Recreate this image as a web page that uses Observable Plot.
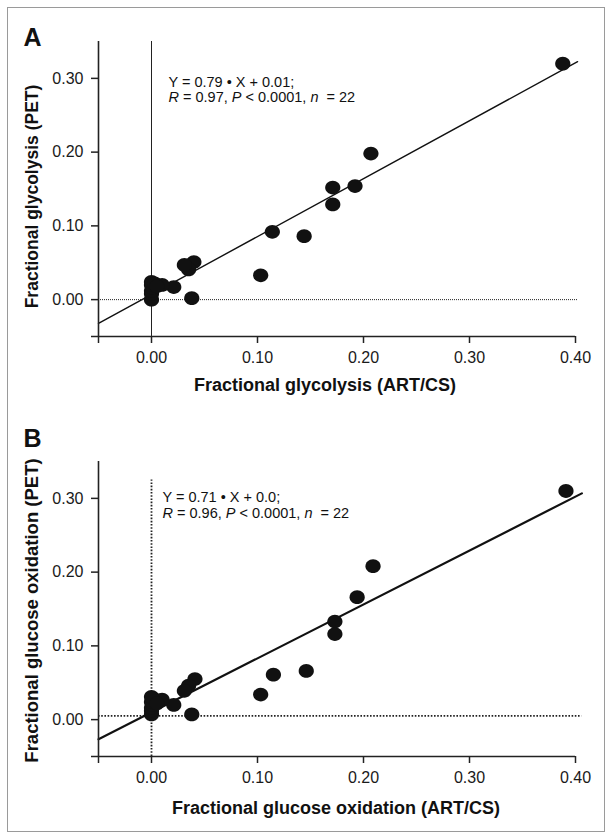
<!DOCTYPE html>
<html>
<head>
<meta charset="utf-8">
<script src="https://cdn.jsdelivr.net/npm/d3@7"></script>
<script src="https://cdn.jsdelivr.net/npm/@observablehq/plot@0.6"></script>
<style>
  html, body { margin: 0; padding: 0; background: #fff; }
  #fig { position: relative; width: 612px; height: 840px; overflow: hidden; }
  #frame { position: absolute; left: 7px; top: 7px; width: 598px; height: 825px; box-sizing: border-box; border: 1.5px solid #9a9a9a; pointer-events: none; }
  .panel { position: absolute; left: 0; width: 612px; height: 420px; }
  #pA { top: 0; }
  #pB { top: 420px; }
</style>
</head>
<body>
<div id="fig">
  <div id="pA" class="panel"></div>
  <div id="pB" class="panel"></div>
  <div id="frame"></div>
</div>
<script>
// ---------- data ----------
const xDomain = [-0.05, 0.40];
const yDomain = [-0.05, 0.35];
const xTicks = [-0.05, 0, 0.1, 0.2, 0.3, 0.4];
const yTicks = [-0.05, 0, 0.1, 0.2, 0.3];

// Panel A: fractional glycolysis
const xA = [0.388, 0.207, 0.192, 0.171, 0.171, 0.144, 0.114, 0.103, 0.038, 0.040, 0.035, 0.031, 0.021, 0.010, 0.000, 0.000, 0.000, 0.001, 0.000, 0.000, 0.003, 0.005];
const yA = [0.320, 0.198, 0.154, 0.152, 0.129, 0.086, 0.092, 0.033, 0.002, 0.051, 0.041, 0.047, 0.017, 0.020, 0.000, 0.008, 0.012, 0.016, 0.020, 0.024, 0.022, 0.018];
const fitA = [0.785, 0.007];          // slope, intercept of drawn line
const fitRangeA = [-0.05, 0.402];
const eqA = ["Y = 0.79 \u2022 X + 0.01;", "R = 0.97, P < 0.0001, n  = 22"];
const xLabelA = "Fractional glycolysis (ART/CS)";
const yLabelA = "Fractional glycolysis (PET)";

// Panel B: fractional glucose oxidation
const xB = [0.391, 0.209, 0.194, 0.173, 0.173, 0.146, 0.115, 0.103, 0.038, 0.041, 0.035, 0.031, 0.021, 0.010, 0.000, 0.000, 0.000, 0.001, 0.000, 0.002, 0.000, 0.005];
const yB = [0.310, 0.208, 0.166, 0.133, 0.116, 0.066, 0.061, 0.034, 0.007, 0.055, 0.046, 0.039, 0.020, 0.027, 0.007, 0.012, 0.016, 0.020, 0.024, 0.028, 0.031, 0.022];
const fitB = [0.731, 0.010];
const fitRangeB = [-0.05, 0.406];
const eqB = ["Y = 0.71 \u2022 X + 0.0;", "R = 0.96, P < 0.0001, n  = 22"];
const xLabelB = "Fractional glucose oxidation (ART/CS)";
const yLabelB = "Fractional glucose oxidation (PET)";

// reference lines
const hRefA = [0];       const hRefRangeA = [-0.05, 0.402];
const vRefA = [0];       const vRefTopA = 0.35;
const hRefB = [0.005];   const hRefRangeB = [-0.05, 0.406];
const vRefB = [0];       const vRefTopB = 0.325;

const FONT = "'Liberation Sans', Arial, Helvetica, sans-serif";
const INK = "#111";

// slightly wide ellipse symbol, like the reference markers
const ellipse = {
  draw(context, size) {
    const r = Math.sqrt(size / Math.PI);
    const rx = r * 1.07, ry = r * 0.97;
    const k = 0.5523;
    context.moveTo(rx, 0);
    context.bezierCurveTo(rx, ry * k, rx * k, ry, 0, ry);
    context.bezierCurveTo(-rx * k, ry, -rx, ry * k, -rx, 0);
    context.bezierCurveTo(-rx, -ry * k, -rx * k, -ry, 0, -ry);
    context.bezierCurveTo(rx * k, -ry, rx, -ry * k, rx, 0);
    context.closePath();
  }
};

function panel(cfg) {
  const pts = cfg.xs.map((x, i) => ({x, y: cfg.ys[i]}));
  const fit = cfg.fitRange.map(x => ({x, y: cfg.fit[0] * x + cfg.fit[1]}));
  const fmt = d => d < 0 ? "" : d3.format(".2f")(d);
  const svg = Plot.plot({
    width: 612, height: 420,
    marginLeft: 98, marginRight: 37, marginTop: 41, marginBottom: 84,
    x: {domain: xDomain, label: null},
    y: {domain: yDomain, label: null},
    style: {fontFamily: FONT, fontSize: "16px", color: INK, background: "transparent", overflow: "visible"},
    marks: [
      // reference lines
      Plot.ruleY(cfg.hRef, {x1: cfg.hRefRange[0], x2: cfg.hRefRange[1], stroke: "#222", strokeWidth: cfg.refWidth, strokeDasharray: cfg.hDash}),
      Plot.ruleX(cfg.vRef, {y1: yDomain[0], y2: cfg.vRefTop, stroke: "#222", strokeWidth: cfg.refWidth, strokeDasharray: cfg.vDash}),
      // regression line
      Plot.line(fit, {x: "x", y: "y", stroke: INK, strokeWidth: cfg.fitWidth}),
      // data points
      Plot.dot(pts, {x: "x", y: "y", r: 7.1, symbol: ellipse, fill: INK, stroke: null}),
      // axis lines
      Plot.ruleY([yDomain[0]], {stroke: "#222", strokeWidth: 1.6}),
      Plot.ruleX([xDomain[0]], {stroke: "#222", strokeWidth: 1.6}),
      // axes
      Plot.axisX({ticks: xTicks, tickSize: 7, tickPadding: 8, tickFormat: fmt, label: null, strokeWidth: 1.5, stroke: "#222", fill: "#1a1a1a", fontSize: 16}),
      Plot.axisY({ticks: yTicks, tickSize: 7, tickPadding: 8, tickFormat: fmt, label: null, strokeWidth: 1.5, stroke: "#222", fill: "#1a1a1a", fontSize: 16}),
      // axis titles
      Plot.text([cfg.xLabel], {frameAnchor: "bottom", textAnchor: "middle", lineAnchor: "bottom", dx: cfg.xLabelDx, dy: cfg.xLabelDy, fontSize: 18, fontWeight: "bold", fill: INK}),
      Plot.text([cfg.yLabel], {frameAnchor: "left", textAnchor: "middle", lineAnchor: "bottom", rotate: -90, dx: -61, dy: cfg.yLabelDy, fontSize: cfg.yLabelSize, fontWeight: "bold", fill: INK}),
      // equation
      Plot.text([cfg.eq[0]], {frameAnchor: "top-left", textAnchor: "start", lineAnchor: "bottom", dx: cfg.eqDx, dy: cfg.eqDy, fontSize: 14.5, fill: INK}),
      Plot.text([cfg.eq[1]], {frameAnchor: "top-left", textAnchor: "start", lineAnchor: "bottom", dx: cfg.eqDx, dy: cfg.eqDy + cfg.eqGap, fontSize: 14.5, fill: INK}),
      // panel letter
      Plot.text([cfg.letter], {frameAnchor: "top-left", textAnchor: "start", lineAnchor: "bottom", dx: -75, dy: cfg.letterDy, fontSize: 25, fontWeight: "bold", fill: INK})
    ]
  });
  // italicise R, P and n in the statistics line
  svg.querySelectorAll("text").forEach(t => {
    if (t.textContent === cfg.eq[1]) {
      const s = t.textContent;
      t.textContent = "";
      t.setAttribute("xml:space", "preserve");
      t.style.whiteSpace = "pre";
      const parts = s.split(/(\bR\b|\bP\b|\bn\b)/);
      parts.forEach(p => {
        if (!p) return;
        const ts = document.createElementNS("http://www.w3.org/2000/svg", "tspan");
        if (p === "R" || p === "P" || p === "n") ts.setAttribute("font-style", "italic");
        ts.textContent = p;
        t.appendChild(ts);
      });
    }
  });
  return svg;
}

document.getElementById("pA").appendChild(panel({
  xs: xA, ys: yA, fit: fitA, fitRange: fitRangeA, fitWidth: 1.4,
  hRef: hRefA, hRefRange: hRefRangeA, vRef: vRefA, vRefTop: vRefTopA,
  refWidth: 1, hDash: "1,1", vDash: null,
  xLabel: xLabelA, yLabel: yLabelA, xLabelDx: -12, xLabelDy: 54, yLabelDy: 7.5, yLabelSize: 17.5,
  eq: eqA, eqDx: 70, eqDy: 45.7, eqGap: 15,
  letter: "A", letterDy: 4
}));

document.getElementById("pB").appendChild(panel({
  xs: xB, ys: yB, fit: fitB, fitRange: fitRangeB, fitWidth: 2.2,
  hRef: hRefB, hRefRange: hRefRangeB, vRef: vRefB, vRefTop: vRefTopB,
  refWidth: 1.8, hDash: "1.6,1.6", vDash: "1.6,1.6",
  xLabel: xLabelB, yLabel: yLabelB, xLabelDx: -1, xLabelDy: 57, yLabelDy: 1.5, yLabelSize: 18.5,
  eq: eqB, eqDx: 64, eqDy: 40, eqGap: 16,
  letter: "B", letterDy: -14.3
}));
</script>
</body>
</html>
